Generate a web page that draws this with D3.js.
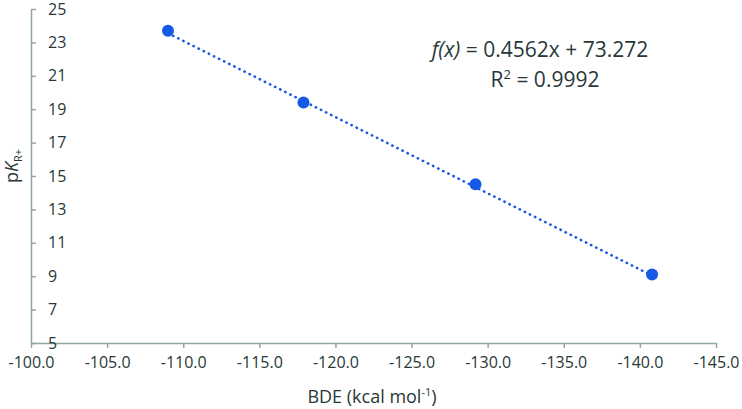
<!DOCTYPE html>
<html>
<head>
<meta charset="utf-8">
<script src="https://cdn.jsdelivr.net/npm/d3@7"></script>
<style>
  html, body { margin: 0; padding: 0; background: #fff; }
  svg { display: block; }
  text { font-family: "Open Sans", sans-serif; fill: #283838; }
</style>
</head>
<body>
<svg id="chart" width="742" height="409"></svg>
<script>
// Data
const bde = [-109.0, -117.9, -129.2, -140.8];
const pK = [23.7, 19.4, 14.5, 9.1];
const xTicks = [-100, -105, -110, -115, -120, -125, -130, -135, -140, -145];
const yTicks = [5, 7, 9, 11, 13, 15, 17, 19, 21, 23, 25];
const fitSlope = 0.4562;
const fitIntercept = 73.272;
const equationText = "= 0.4562x + 73.272";
const r2Text = "= 0.9992";

const svg = d3.select("#chart");
const mLeft = 31, mRight = 716, mTop = 9, mBottom = 343;

const x = d3.scaleLinear().domain([-100, -145]).range([mLeft, mRight]);
const y = d3.scaleLinear().domain([5, 25]).range([mBottom, mTop]);

const axisColor = "#8fa8a6";
const textColor = "#283838";

// X axis
const xAxis = svg.append("g").attr("transform", `translate(0,${mBottom})`)
  .call(d3.axisBottom(x).tickValues(xTicks).tickSize(5).tickSizeOuter(0).tickPadding(9)
    .tickFormat(d3.format(".1f")));
xAxis.select(".domain").attr("stroke", axisColor).attr("stroke-width", 1.5);
xAxis.selectAll(".tick line").attr("stroke", axisColor).attr("stroke-width", 1.5);
xAxis.selectAll(".tick text").attr("font-size", 16).attr("fill", textColor)
  .style("font-family", "'Open Sans', sans-serif")
  .text(d => d3.format(".1f")(d).replace("−", "-"));

// Y axis
const yAxis = svg.append("g").attr("transform", `translate(${mLeft},0)`)
  .call(d3.axisRight(y).tickValues(yTicks).tickSize(5).tickSizeOuter(0).tickPadding(12)
    .tickFormat(d3.format("d")));
yAxis.select(".domain").attr("stroke", axisColor).attr("stroke-width", 1.5);
yAxis.selectAll(".tick line").attr("stroke", axisColor).attr("stroke-width", 1.5);
yAxis.selectAll(".tick text").attr("font-size", 16).attr("fill", textColor)
  .style("font-family", "'Open Sans', sans-serif").attr("text-anchor", "start");

// Trendline (dotted)
const xMin = d3.min(bde), xMax = d3.max(bde);
svg.append("line")
  .attr("x1", x(xMax)).attr("y1", y(fitSlope * xMax + fitIntercept))
  .attr("x2", x(xMin)).attr("y2", y(fitSlope * xMin + fitIntercept))
  .attr("stroke", "#1659e4").attr("stroke-width", 2.6)
  .attr("stroke-linecap", "round").attr("stroke-dasharray", "0.3 5.4");

// Points
svg.append("g").selectAll("circle").data(bde).join("circle")
  .attr("cx", d => x(d)).attr("cy", (d, i) => y(pK[i]))
  .attr("r", 6).attr("fill", "#1659e4");

// Equation
const eq = svg.append("text").attr("x", 540).attr("y", 57).attr("text-anchor", "middle").attr("font-size", 21);
eq.append("tspan").attr("font-style", "italic").text("f(x) ");
eq.append("tspan").text(equationText);
const r2 = svg.append("text").attr("x", 545).attr("y", 87).attr("text-anchor", "middle").attr("font-size", 21);
r2.append("tspan").text("R");
r2.append("tspan").attr("font-size", 13).attr("dy", -8).text("2");
r2.append("tspan").attr("dy", 8).text(" " + r2Text);

// X label
const xl = svg.append("text").attr("x", 372).attr("y", 403).attr("text-anchor", "middle").attr("font-size", 18);
xl.append("tspan").text("BDE (kcal mol");
xl.append("tspan").attr("font-size", 11).attr("dy", -7).text("-1");
xl.append("tspan").attr("dy", 7).text(")");

// Y label
const yl = svg.append("text").attr("transform", "translate(18,166) rotate(-90)").attr("text-anchor", "middle").attr("font-size", 18);
yl.append("tspan").text("p");
yl.append("tspan").attr("font-style", "italic").text("K");
yl.append("tspan").attr("font-size", 11).attr("dy", 4).text("R+");
</script>
</body>
</html>
